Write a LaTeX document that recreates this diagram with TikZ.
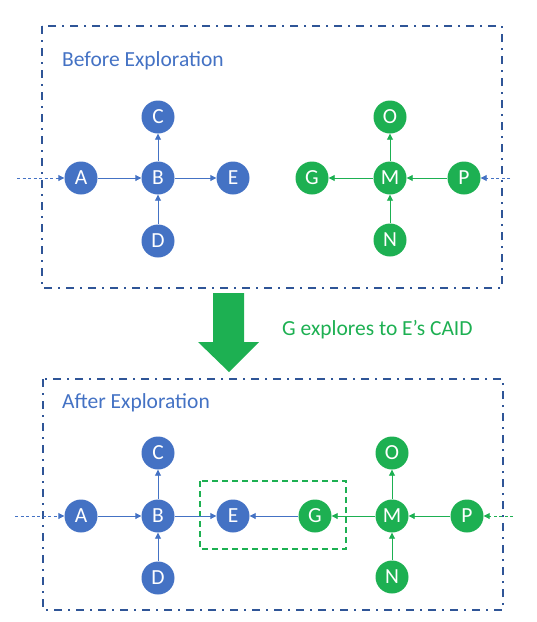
\documentclass[tikz,border=0pt]{standalone}
\usepackage{fontspec}
\setmainfont{Carlito}
\usetikzlibrary{arrows.meta}
\definecolor{nodeblue}{HTML}{4472C4}
\definecolor{nodegreen}{HTML}{1DB052}
\definecolor{framecol}{HTML}{2F5597}
\tikzset{
  bnode/.style={circle, fill=nodeblue, minimum size=33pt, inner sep=0pt, text=white, font=\fontsize{21.5}{21.5}\selectfont},
  gnode/.style={circle, fill=nodegreen, minimum size=33pt, inner sep=0pt, text=white, font=\fontsize{21.5}{21.5}\selectfont},
  conn/.style={-{Triangle[length=6pt,width=6pt]}, line width=0.9pt},
  bconn/.style={conn, draw=nodeblue},
  gconn/.style={conn, draw=nodegreen},
  inconn/.style={-{Triangle[length=6pt,width=6pt]}, line width=0.9pt, dash pattern=on 3pt off 2.5pt},
  frame/.style={draw=framecol, line width=2pt, dash pattern=on 8pt off 6pt on 2pt off 6pt},
  title/.style={anchor=base west, text=nodeblue, font=\fontsize{21.5}{21.5}\selectfont, inner sep=0pt},
}
\begin{document}
\begin{tikzpicture}[x=1pt,y=-1pt]
\useasboundingbox (0,0) rectangle (537,622);
% frames
\draw[frame] (42,26) rectangle (502,288);
\draw[frame] (43,379) rectangle (503,610);
\node[title] (t1) at (62,66) {Before Exploration};
\node[title] (t2) at (62,408) {After Exploration};
% big arrow
\fill[nodegreen] (213,293) -- (244,293) -- (244,342) -- (259,342) -- (229,372) -- (198,342) -- (213,342) -- cycle;
\node[anchor=base west, text=nodegreen, font=\fontsize{21.5}{21.5}\selectfont, inner sep=0pt] (lab) at (282,335) {G explores to E’s CAID};
% top graph
\node[bnode] (A1) at (81,178) {A};
\node[bnode] (B1) at (158,178) {B};
\node[bnode] (C1) at (158,117) {C};
\node[bnode] (D1) at (158,241) {D};
\node[bnode] (E1) at (233,178) {E};
\node[gnode] (G1) at (312,178) {G};
\node[gnode] (M1) at (390,178) {M};
\node[gnode] (O1) at (390,117) {O};
\node[gnode] (N1) at (390,240) {N};
\node[gnode] (P1) at (464,178) {P};
\coordinate (inA1) at (17,178);
\coordinate (inP1) at (510,178);
\draw[inconn, draw=nodeblue] (inA1) -- (A1);
\draw[inconn, draw=nodeblue] (inP1) -- (P1);
\draw[bconn] (A1) -- (B1);
\draw[bconn] (B1) -- (E1);
\draw[bconn] (B1) -- (C1);
\draw[bconn] (D1) -- (B1);
\draw[gconn] (M1) -- (G1);
\draw[gconn] (P1) -- (M1);
\draw[gconn] (M1) -- (O1);
\draw[gconn] (N1) -- (M1);
% bottom graph
\node[bnode] (A2) at (81,516) {A};
\node[bnode] (B2) at (158,516) {B};
\node[bnode] (C2) at (158,453) {C};
\node[bnode] (D2) at (158,578) {D};
\node[bnode] (E2) at (233,516) {E};
\node[gnode] (G2) at (315,516) {G};
\node[gnode] (M2) at (392,516) {M};
\node[gnode] (O2) at (392,453) {O};
\node[gnode] (N2) at (392,577) {N};
\node[gnode] (P2) at (467,516) {P};
\draw[draw=nodegreen, line width=1.8pt, dash pattern=on 6pt off 4pt] (200,481) rectangle (346,549);
\coordinate (inA2) at (15,516);
\coordinate (inP2) at (513,516);
\draw[inconn, draw=nodeblue] (inA2) -- (A2);
\draw[inconn, draw=nodegreen] (inP2) -- (P2);
\draw[bconn] (A2) -- (B2);
\draw[bconn] (B2) -- (E2);
\draw[bconn] (B2) -- (C2);
\draw[bconn] (D2) -- (B2);
\draw[bconn] (G2) -- (E2);
\draw[gconn] (M2) -- (G2);
\draw[gconn] (P2) -- (M2);
\draw[gconn] (M2) -- (O2);
\draw[gconn] (N2) -- (M2);
\end{tikzpicture}
\end{document}
